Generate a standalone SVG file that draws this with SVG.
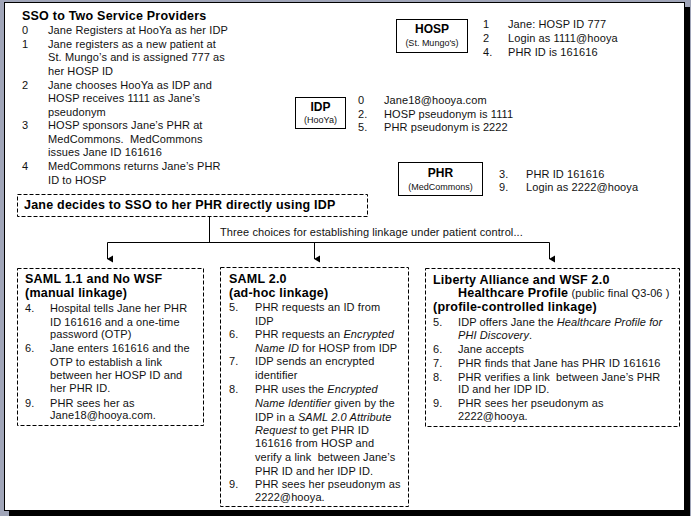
<svg xmlns="http://www.w3.org/2000/svg" width="691" height="516" viewBox="0 0 691 516">
<defs>
<marker id="arr" markerWidth="8" markerHeight="8" refX="4" refY="6" orient="auto" markerUnits="userSpaceOnUse" viewBox="0 0 8 8">
<path d="M0.5,0.5 L7.5,0.5 L4,6.5 Z" fill="#000"/>
</marker>
</defs>
<style>
text{font-family:"Liberation Sans",Arial,sans-serif;font-size:11px;fill:#111;letter-spacing:0.1px;white-space:pre;}
.b{font-weight:bold;font-size:12.5px;fill:#000;letter-spacing:0.22px;}
.nb{font-weight:bold;font-size:12px;fill:#000;text-anchor:middle;letter-spacing:0;}
.sm{font-size:9px;text-anchor:middle;letter-spacing:0;}
.box{fill:#fff;stroke:#000;stroke-width:1;}
.dash{fill:none;stroke:#000;stroke-width:1;stroke-dasharray:4 2;}
.ln{fill:none;stroke:#000;stroke-width:1;}
.it{font-style:italic;}
</style>
<rect x="0" y="0" width="691" height="516" fill="#a0a5b8"/>
<rect x="9" y="7" width="681" height="509" fill="#000"/>
<rect x="4.5" y="2.5" width="680" height="508" fill="#fff" stroke="#000" stroke-width="1"/>

<g id="intro">
<text class="b" x="22" y="20">SSO to Two Service Providers</text>
<text x="22" y="34">0</text><text x="48" y="34">Jane Registers at HooYa as her IDP</text>
<text x="22" y="48">1</text><text x="48" y="48">Jane registers as a new patient at</text>
<text x="48" y="61">St. Mungo’s and is assigned 777 as</text>
<text x="48" y="75">her HOSP ID</text>
<text x="22" y="89">2</text><text x="48" y="89">Jane chooses HooYa as IDP and</text>
<text x="48" y="102">HOSP receives 1111 as Jane’s</text>
<text x="48" y="116">pseudonym</text>
<text x="22" y="129">3</text><text x="48" y="129">HOSP sponsors Jane’s PHR at</text>
<text x="48" y="143">MedCommons.  MedCommons</text>
<text x="48" y="156">issues Jane ID 161616</text>
<text x="22" y="170">4</text><text x="48" y="170">MedCommons returns Jane’s PHR</text>
<text x="48" y="184">ID to HOSP</text>
</g>

<g id="hosp">
<rect class="box" x="396.5" y="19.5" width="71" height="33"/>
<text class="nb" x="432" y="33">HOSP</text>
<text class="sm" x="432" y="46">(St. Mungo's)</text>
<text x="483" y="28">1</text><text x="508" y="28">Jane: HOSP ID 777</text>
<text x="483" y="42">2</text><text x="508" y="42">Login as 1111@hooya</text>
<text x="483" y="56">4.</text><text x="508" y="56">PHR ID is 161616</text>
</g>

<g id="idp">
<rect class="box" x="295.5" y="97.5" width="50" height="31"/>
<text class="nb" x="320.5" y="111">IDP</text>
<text class="sm" x="320.5" y="123">(HooYa)</text>
<text x="358" y="104">0</text><text x="384" y="104">Jane18@hooya.com</text>
<text x="358" y="118">2.</text><text x="384" y="118">HOSP pseudonym is 1111</text>
<text x="358" y="131">5.</text><text x="384" y="131">PHR pseudonym is 2222</text>
</g>

<g id="phr">
<rect class="box" x="398.5" y="162.5" width="84" height="33"/>
<text class="nb" x="440.5" y="177">PHR</text>
<text class="sm" x="440.5" y="190">(MedCommons)</text>
<text x="499" y="178">3.</text><text x="526" y="178">PHR ID 161616</text>
<text x="499" y="191">9.</text><text x="526" y="191">Login as 2222@hooya</text>
</g>

<g id="decide">
<rect class="dash" x="17.5" y="194.5" width="350" height="22"/>
<text class="b" x="24" y="209">Jane decides to SSO to her PHR directly using IDP</text>
</g>

<g id="connectors">
<path class="ln" d="M209.5,216.5 V242.5 M107.5,242.5 H549.5"/>
<path class="ln" d="M107.5,242.5 V259" marker-end="url(#arr)"/>
<path class="ln" d="M314.5,242.5 V259" marker-end="url(#arr)"/>
<path class="ln" d="M549.5,242.5 V259" marker-end="url(#arr)"/>
<text x="220" y="236">Three choices for establishing linkage under patient control...</text>
</g>

<g id="saml11">
<rect class="dash" x="17.5" y="268.5" width="186" height="157"/>
<text class="b" x="25" y="283">SAML 1.1 and No WSF</text>
<text class="b" x="25" y="297">(manual linkage)</text>
<text x="25" y="312">4.</text><text x="50" y="312">Hospital tells Jane her PHR</text>
<text x="50" y="326">ID 161616 and a one-time</text>
<text x="50" y="338">password (OTP)</text>
<text x="25" y="352">6.</text><text x="50" y="352">Jane enters 161616 and the</text>
<text x="50" y="366">OTP to establish a link</text>
<text x="50" y="379">between her HOSP ID and</text>
<text x="50" y="392">her PHR ID.</text>
<text x="25" y="407">9.</text><text x="50" y="407">PHR sees her as</text>
<text x="50" y="419">Jane18@hooya.com.</text>
</g>

<g id="saml20">
<rect class="dash" x="220.5" y="267.5" width="188" height="239"/>
<text class="b" x="229" y="283">SAML 2.0</text>
<text class="b" x="229" y="297">(ad-hoc linkage)</text>
<text x="229" y="311">5.</text><text x="255" y="311">PHR requests an ID from</text>
<text x="255" y="325">IDP</text>
<text x="229" y="338">6.</text><text x="255" y="338">PHR requests an <tspan class="it">Encrypted</tspan></text>
<text x="255" y="352"><tspan class="it">Name ID</tspan> for HOSP from IDP</text>
<text x="229" y="365">7.</text><text x="255" y="365">IDP sends an encrypted</text>
<text x="255" y="379">identifier</text>
<text x="229" y="393">8.</text><text x="255" y="393">PHR uses the <tspan class="it">Encrypted</tspan></text>
<text x="255" y="407"><tspan class="it">Name Identifier</tspan> given by the</text>
<text x="255" y="421">IDP in a <tspan class="it">SAML 2.0 Attribute</tspan></text>
<text x="255" y="434"><tspan class="it">Request</tspan> to get PHR ID</text>
<text x="255" y="447">161616 from HOSP and</text>
<text x="255" y="461">verify a link  between Jane’s</text>
<text x="255" y="475">PHR ID and her IDP ID.</text>
<text x="229" y="488">9.</text><text x="255" y="488">PHR sees her pseudonym as</text>
<text x="255" y="501">2222@hooya.</text>
</g>

<g id="liberty">
<rect class="dash" x="425.5" y="268.5" width="254" height="158"/>
<text class="b" x="433" y="284">Liberty Alliance and WSF 2.0</text>
<text x="458" y="297"><tspan class="b">Healthcare Profile</tspan> (public final Q3-06 )</text>
<text class="b" x="433" y="311">(profile-controlled linkage)</text>
<text x="433" y="326">5.</text><text x="458" y="326">IDP offers Jane the <tspan class="it">Healthcare Profile for</tspan></text>
<text x="458" y="339"><tspan class="it">PHI Discovery</tspan>.</text>
<text x="433" y="353">6.</text><text x="458" y="353">Jane accepts</text>
<text x="433" y="367">7.</text><text x="458" y="367">PHR finds that Jane has PHR ID 161616</text>
<text x="433" y="381">8.</text><text x="458" y="381">PHR verifies a link  between Jane’s PHR</text>
<text x="458" y="393">ID and her IDP ID.</text>
<text x="433" y="407">9.</text><text x="458" y="407">PHR sees her pseudonym as</text>
<text x="458" y="420">2222@hooya.</text>
</g>
</svg>
